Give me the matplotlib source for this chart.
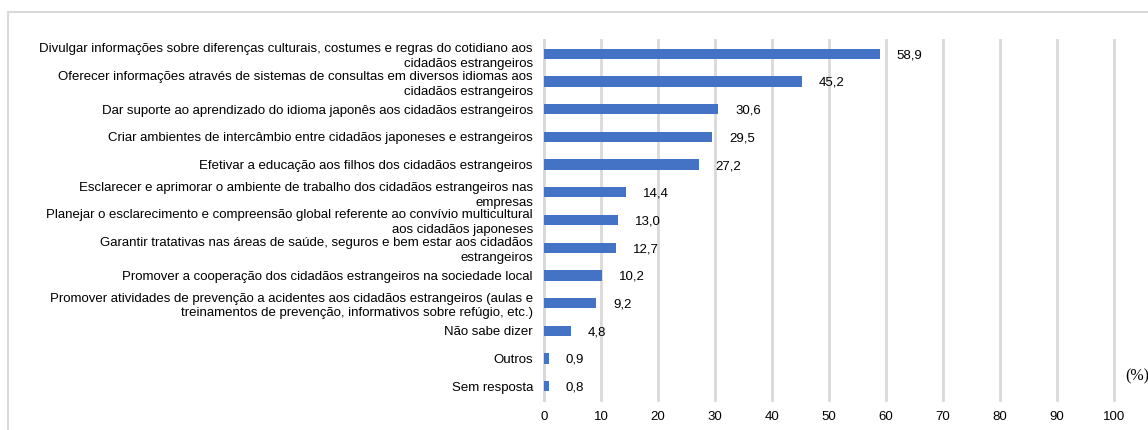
import matplotlib
matplotlib.use("Agg")
import matplotlib.pyplot as plt
from matplotlib.patches import Rectangle

categories = [
    "Divulgar informações sobre diferenças culturais, costumes e regras do cotidiano aos\ncidadãos estrangeiros",
    "Oferecer informações através de sistemas de consultas em diversos idiomas aos\ncidadãos estrangeiros",
    "Dar suporte ao aprendizado do idioma japonês aos cidadãos estrangeiros",
    "Criar ambientes de intercâmbio entre cidadãos japoneses e estrangeiros",
    "Efetivar a educação aos filhos dos cidadãos estrangeiros",
    "Esclarecer e aprimorar o ambiente de trabalho dos cidadãos estrangeiros nas\nempresas",
    "Planejar o esclarecimento e compreensão global referente ao convívio multicultural\naos cidadãos japoneses",
    "Garantir tratativas nas áreas de saúde, seguros e bem estar aos cidadãos\nestrangeiros",
    "Promover a cooperação dos cidadãos estrangeiros na sociedade local",
    "Promover atividades de prevenção a acidentes aos cidadãos estrangeiros (aulas e\ntreinamentos de prevenção, informativos sobre refúgio, etc.)",
    "Não sabe dizer",
    "Outros",
    "Sem resposta",
]
values = [58.9, 45.2, 30.6, 29.5, 27.2, 14.4, 13.0, 12.7, 10.2, 9.2, 4.8, 0.9, 0.8]
xticks = [0, 10, 20, 30, 40, 50, 60, 70, 80, 90, 100]

plt.rcParams['font.family'] = ['Liberation Sans', 'DejaVu Sans']

W, H = 1148, 430
fig = plt.figure(figsize=(W / 100, H / 100), dpi=100)
ax = fig.add_axes([544 / W, 1 - 400 / H, (1114 - 544) / W, (400 - 40) / H])

y = list(range(len(categories)))
ax.barh(y, values, height=0.37, color='#4472C4', zorder=3)
for yi, v in zip(y, values):
    ax.annotate(f"{v:.1f}".replace('.', ','), (v, yi), xytext=(12, -1),
                textcoords='offset points', ha='left', va='center',
                fontsize=9.5, color='#000000')

ax.set_xlim(0, 100)
ax.set_ylim(len(categories) - 0.5, -0.5)
ax.set_xticks(xticks)
ax.set_xticklabels([str(t) for t in xticks], fontsize=9.5)
ax.set_yticks(y)
ax.set_yticklabels(categories, fontsize=9.5, linespacing=1.3)
ax.tick_params(axis='both', length=0)
ax.tick_params(axis='y', pad=8)
ax.tick_params(axis='x', pad=8)
ax.grid(axis='x', color='#d9d9d9', linewidth=2, zorder=0)
for gl in ax.get_xgridlines():
    gl.set_clip_on(False)
for s in ['top', 'right', 'bottom']:
    ax.spines[s].set_visible(False)
ax.spines['left'].set_color('#d9d9d9')
ax.spines['left'].set_linewidth(2)
ax.spines['left'].set_zorder(2)

fig.text(1125 / W, 1 - 376 / H, "(%)", family=['Liberation Serif', 'DejaVu Serif'],
         fontsize=11.5, ha='left', va='center')

# outer frame
fig.add_artist(Rectangle((8 / W, -0.2), 1.5, 1 - 12 / H + 0.2, transform=fig.transFigure,
                         fill=False, edgecolor='#d9d9d9', linewidth=1.5, clip_on=False))

fig.savefig("out.png", dpi=100)
